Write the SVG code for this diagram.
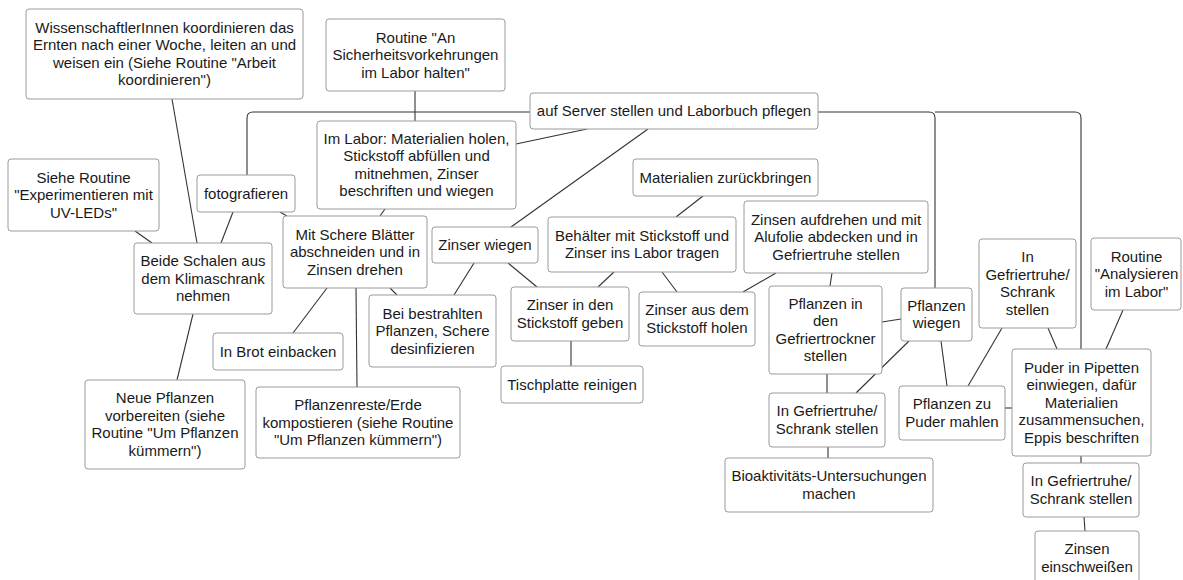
<svg xmlns="http://www.w3.org/2000/svg" width="1183" height="580" viewBox="0 0 1183 580">
  <style>
    .box { fill: #ffffff; stroke: #9a9a9a; stroke-width: 1; }
    .lbl { font-family: "Liberation Sans", Arial, sans-serif; font-size: 15px; fill: #1a1a1a; text-anchor: middle; }
    .edge { fill: none; stroke: #333333; stroke-width: 1.1; }
  </style>
  <rect width="1183" height="580" fill="#ffffff"/>

  <!-- connectors -->
  <g id="connectors">
    <!-- elbow lines through the documentation step -->
    <path class="edge" d="M247,175 V118 Q247,112 253,112 H530"/>
    <path class="edge" d="M818,112 H929 Q935,112 935,118 V288"/>
    <path class="edge" d="M935,112 H1075 Q1081,112 1081,118 V349"/>
    <line class="edge" x1="415" y1="91" x2="415" y2="121"/>
    <line class="edge" x1="516" y1="144" x2="587" y2="129"/>
    <line class="edge" x1="648" y1="129" x2="511" y2="227"/>
    <line class="edge" x1="172" y1="99" x2="197" y2="243"/>
    <line class="edge" x1="135" y1="231" x2="152" y2="243"/>
    <line class="edge" x1="233" y1="212" x2="221" y2="243"/>
    <line class="edge" x1="280" y1="212" x2="287" y2="216"/>
    <line class="edge" x1="193" y1="314" x2="177" y2="380"/>
    <line class="edge" x1="385" y1="209" x2="380" y2="216"/>
    <line class="edge" x1="327" y1="288" x2="293" y2="333"/>
    <line class="edge" x1="356" y1="288" x2="357" y2="387"/>
    <line class="edge" x1="390" y1="288" x2="397" y2="295"/>
    <line class="edge" x1="474" y1="263" x2="454" y2="295"/>
    <line class="edge" x1="508" y1="263" x2="537" y2="287"/>
    <line class="edge" x1="614" y1="272" x2="598" y2="287"/>
    <line class="edge" x1="662" y1="272" x2="677" y2="292"/>
    <line class="edge" x1="703" y1="196" x2="676" y2="217"/>
    <line class="edge" x1="776" y1="273" x2="743" y2="292"/>
    <line class="edge" x1="832" y1="273" x2="830" y2="286"/>
    <line class="edge" x1="571" y1="341" x2="571" y2="366"/>
    <line class="edge" x1="882" y1="322" x2="901" y2="319"/>
    <line class="edge" x1="909" y1="341" x2="856" y2="393"/>
    <line class="edge" x1="827" y1="374" x2="827" y2="393"/>
    <line class="edge" x1="941" y1="341" x2="947" y2="386"/>
    <line class="edge" x1="1002" y1="328" x2="968" y2="386"/>
    <line class="edge" x1="1048" y1="328" x2="1057" y2="349"/>
    <line class="edge" x1="1123" y1="310" x2="1106" y2="349"/>
    <line class="edge" x1="1005" y1="408" x2="1012" y2="408"/>
    <line class="edge" x1="828" y1="447" x2="828" y2="458"/>
    <line class="edge" x1="1081" y1="456" x2="1081" y2="463"/>
    <line class="edge" x1="1084" y1="517" x2="1085" y2="531"/>
  </g>

  <g id="n-koordinieren">
    <rect class="box" x="26" y="9" width="277" height="90" rx="3"/>
    <text class="lbl" x="164.5" y="32.75">WissenschaftlerInnen koordinieren das</text>
    <text class="lbl" x="164.5" y="50.25">Ernten nach einer Woche, leiten an und</text>
    <text class="lbl" x="164.5" y="67.75">weisen ein (Siehe Routine "Arbeit</text>
    <text class="lbl" x="164.5" y="85.25">koordinieren")</text>
  </g>
  <g id="n-sicherheit">
    <rect class="box" x="326" y="19" width="179" height="72" rx="3"/>
    <text class="lbl" x="415.5" y="42.5">Routine "An</text>
    <text class="lbl" x="415.5" y="60">Sicherheitsvorkehrungen</text>
    <text class="lbl" x="415.5" y="77.5">im Labor halten"</text>
  </g>
  <g id="n-server">
    <rect class="box" x="530" y="93" width="288" height="36" rx="3"/>
    <text class="lbl" x="674" y="116">auf Server stellen und Laborbuch pflegen</text>
  </g>
  <g id="n-imlabor">
    <rect class="box" x="317" y="121" width="199" height="88" rx="3"/>
    <text class="lbl" x="416.5" y="143.75">Im Labor: Materialien holen,</text>
    <text class="lbl" x="416.5" y="161.25">Stickstoff abfüllen und</text>
    <text class="lbl" x="416.5" y="178.75">mitnehmen, Zinser</text>
    <text class="lbl" x="416.5" y="196.25">beschriften und wiegen</text>
  </g>
  <g id="n-foto">
    <rect class="box" x="197" y="175" width="98" height="37" rx="3"/>
    <text class="lbl" x="246" y="198.5">fotografieren</text>
  </g>
  <g id="n-uvleds">
    <rect class="box" x="8" y="159" width="151" height="72" rx="3"/>
    <text class="lbl" x="83.5" y="182.5">Siehe Routine</text>
    <text class="lbl" x="83.5" y="200">"Experimentieren mit</text>
    <text class="lbl" x="83.5" y="217.5">UV-LEDs"</text>
  </g>
  <g id="n-schalen">
    <rect class="box" x="134" y="243" width="138" height="71" rx="3"/>
    <text class="lbl" x="203" y="266">Beide Schalen aus</text>
    <text class="lbl" x="203" y="283.5">dem Klimaschrank</text>
    <text class="lbl" x="203" y="301">nehmen</text>
  </g>
  <g id="n-schere">
    <rect class="box" x="283" y="216" width="144" height="72" rx="3"/>
    <text class="lbl" x="355" y="239.5">Mit Schere Blätter</text>
    <text class="lbl" x="355" y="257">abschneiden und in</text>
    <text class="lbl" x="355" y="274.5">Zinsen drehen</text>
  </g>
  <g id="n-zinserwiegen">
    <rect class="box" x="432" y="227" width="106" height="36" rx="3"/>
    <text class="lbl" x="485" y="250">Zinser wiegen</text>
  </g>
  <g id="n-behaelter">
    <rect class="box" x="548" y="217" width="188" height="55" rx="3"/>
    <text class="lbl" x="642" y="240.75">Behälter mit Stickstoff und</text>
    <text class="lbl" x="642" y="258.25">Zinser ins Labor tragen</text>
  </g>
  <g id="n-zurueck">
    <rect class="box" x="633" y="159" width="185" height="37" rx="3"/>
    <text class="lbl" x="725.5" y="182.5">Materialien zurückbringen</text>
  </g>
  <g id="n-aufdrehen">
    <rect class="box" x="744" y="201" width="184" height="72" rx="3"/>
    <text class="lbl" x="836" y="224.5">Zinsen aufdrehen und mit</text>
    <text class="lbl" x="836" y="242">Alufolie abdecken und in</text>
    <text class="lbl" x="836" y="259.5">Gefriertruhe stellen</text>
  </g>
  <g id="n-desinfizieren">
    <rect class="box" x="369" y="295" width="127" height="72" rx="3"/>
    <text class="lbl" x="432.5" y="318.5">Bei bestrahlten</text>
    <text class="lbl" x="432.5" y="336">Pflanzen, Schere</text>
    <text class="lbl" x="432.5" y="353.5">desinfizieren</text>
  </g>
  <g id="n-indenstickstoff">
    <rect class="box" x="511" y="287" width="118" height="54" rx="3"/>
    <text class="lbl" x="570" y="310.25">Zinser in den</text>
    <text class="lbl" x="570" y="327.75">Stickstoff geben</text>
  </g>
  <g id="n-ausdemstickstoff">
    <rect class="box" x="639" y="292" width="116" height="54" rx="3"/>
    <text class="lbl" x="697" y="315.25">Zinser aus dem</text>
    <text class="lbl" x="697" y="332.75">Stickstoff holen</text>
  </g>
  <g id="n-tischplatte">
    <rect class="box" x="501" y="366" width="142" height="37" rx="3"/>
    <text class="lbl" x="572" y="389.5">Tischplatte reinigen</text>
  </g>
  <g id="n-brot">
    <rect class="box" x="213" y="333" width="130" height="37" rx="3"/>
    <text class="lbl" x="278" y="356.5">In Brot einbacken</text>
  </g>
  <g id="n-neuepflanzen">
    <rect class="box" x="85" y="380" width="160" height="89" rx="3"/>
    <text class="lbl" x="165" y="403.25">Neue Pflanzen</text>
    <text class="lbl" x="165" y="420.75">vorbereiten (siehe</text>
    <text class="lbl" x="165" y="438.25">Routine "Um Pflanzen</text>
    <text class="lbl" x="165" y="455.75">kümmern")</text>
  </g>
  <g id="n-kompost">
    <rect class="box" x="256" y="387" width="204" height="71" rx="3"/>
    <text class="lbl" x="358" y="410">Pflanzenreste/Erde</text>
    <text class="lbl" x="358" y="427.5">kompostieren (siehe Routine</text>
    <text class="lbl" x="358" y="445">"Um Pflanzen kümmern")</text>
  </g>
  <g id="n-gefriertrockner">
    <rect class="box" x="769" y="286" width="113" height="88" rx="3"/>
    <text class="lbl" x="825.5" y="308.75">Pflanzen in</text>
    <text class="lbl" x="825.5" y="326.25">den</text>
    <text class="lbl" x="825.5" y="343.75">Gefriertrockner</text>
    <text class="lbl" x="825.5" y="361.25">stellen</text>
  </g>
  <g id="n-pflanzenwiegen">
    <rect class="box" x="901" y="288" width="71" height="53" rx="3"/>
    <text class="lbl" x="936.5" y="310.75">Pflanzen</text>
    <text class="lbl" x="936.5" y="328.25">wiegen</text>
  </g>
  <g id="n-gefriertruhe-a">
    <rect class="box" x="979" y="239" width="97" height="89" rx="3"/>
    <text class="lbl" x="1027.5" y="262.25">In</text>
    <text class="lbl" x="1027.5" y="279.75">Gefriertruhe/</text>
    <text class="lbl" x="1027.5" y="297.25">Schrank</text>
    <text class="lbl" x="1027.5" y="314.75">stellen</text>
  </g>
  <g id="n-analysieren">
    <rect class="box" x="1091" y="238" width="90" height="72" rx="3"/>
    <text class="lbl" x="1136.5" y="261.5">Routine</text>
    <text class="lbl" x="1136.5" y="279">"Analysieren</text>
    <text class="lbl" x="1136.5" y="296.5">im Labor"</text>
  </g>
  <g id="n-gefriertruhe-b">
    <rect class="box" x="769" y="393" width="116" height="54" rx="3"/>
    <text class="lbl" x="827" y="416.25">In Gefriertruhe/</text>
    <text class="lbl" x="827" y="433.75">Schrank stellen</text>
  </g>
  <g id="n-mahlen">
    <rect class="box" x="899" y="386" width="106" height="54" rx="3"/>
    <text class="lbl" x="952" y="409.25">Pflanzen zu</text>
    <text class="lbl" x="952" y="426.75">Puder mahlen</text>
  </g>
  <g id="n-pipetten">
    <rect class="box" x="1012" y="349" width="139" height="107" rx="3"/>
    <text class="lbl" x="1081.5" y="372.5">Puder in Pipetten</text>
    <text class="lbl" x="1081.5" y="390">einwiegen, dafür</text>
    <text class="lbl" x="1081.5" y="407.5">Materialien</text>
    <text class="lbl" x="1081.5" y="425">zusammensuchen,</text>
    <text class="lbl" x="1081.5" y="442.5">Eppis beschriften</text>
  </g>
  <g id="n-bioaktivitaet">
    <rect class="box" x="725" y="458" width="208" height="54" rx="3"/>
    <text class="lbl" x="829" y="481.25">Bioaktivitäts-Untersuchungen</text>
    <text class="lbl" x="829" y="498.75">machen</text>
  </g>
  <g id="n-gefriertruhe-c">
    <rect class="box" x="1023" y="463" width="116" height="54" rx="3"/>
    <text class="lbl" x="1081" y="486.25">In Gefriertruhe/</text>
    <text class="lbl" x="1081" y="503.75">Schrank stellen</text>
  </g>
  <g id="n-einschweissen">
    <rect class="box" x="1035" y="531" width="104" height="56" rx="3"/>
    <text class="lbl" x="1087" y="554.25">Zinsen</text>
    <text class="lbl" x="1087" y="571.75">einschweißen</text>
  </g>
</svg>
